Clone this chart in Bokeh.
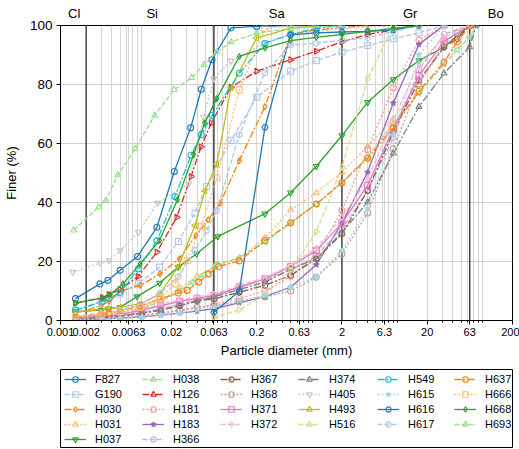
import math
from bokeh.plotting import figure
from bokeh.models import Range1d, FixedTicker, Span, Legend, LegendItem, LogAxis
from bokeh.layouts import column
from bokeh.embed import file_html
from bokeh.resources import INLINE

# ---------------- data (particle diameter mm, percent finer) ----------------
F827_d = [0.0015, 0.0029, 0.0036, 0.005, 0.008, 0.0135, 0.0216, 0.0336, 0.0448, 0.0597, 0.1, 0.2, 0.5, 2]
F827_p = [7.4, 12.4, 13.6, 17, 21.7, 31.6, 50.5, 65.3, 78.4, 88.4, 99.2, 99.7, 100, 100]
G190_d = [0.0015, 0.003, 0.0037, 0.005, 0.0082, 0.0145, 0.0241, 0.0378, 0.0517, 0.1, 0.2, 0.5, 1, 2, 4, 8, 16, 31.5]
G190_p = [3.5, 6.5, 7.5, 9, 12.5, 18.1, 26.8, 36.4, 45.4, 61, 75.7, 84.5, 88.1, 91, 93.2, 95.5, 97.5, 100]
H030_d = [0.0015, 0.003, 0.0037, 0.0053, 0.0086, 0.0147, 0.0248, 0.0388, 0.054, 0.0747, 0.125, 0.25, 0.5, 1, 2, 4]
H030_p = [2.5, 5, 6.5, 10.2, 11.9, 15.8, 20.9, 28.8, 34.1, 39.8, 54.2, 72.5, 97, 98.5, 99.3, 100]
H031_d = [0.0015, 0.003, 0.005, 0.0085, 0.015, 0.025, 0.04, 0.063, 0.125, 0.25, 0.5, 1, 2, 4, 8, 16, 31.5, 63]
H031_p = [1, 1.5, 2.5, 4, 7, 11, 15, 18, 21.2, 28, 37.6, 43.2, 50.3, 59, 68.4, 80, 93, 100]
H037_d = [0.0015, 0.003, 0.0037, 0.005, 0.0079, 0.0145, 0.0241, 0.0395, 0.07, 0.25, 0.5, 1, 2, 4, 8, 16, 31.5, 63]
H037_p = [3, 3.5, 4, 4.5, 8.1, 12.7, 18.1, 22.6, 28.5, 36.2, 43.3, 52.3, 62.7, 74, 81.7, 88.1, 92.7, 100]
H038_d = [0.0015, 0.003, 0.005, 0.008, 0.015, 0.025, 0.035, 0.048, 0.068, 0.125, 0.25, 0.5, 1, 2, 4, 8, 16, 31.5, 45, 63, 75]
H038_p = [0.5, 1, 2, 3.5, 6.5, 10, 13, 15.5, 19, 21.2, 26.6, 33.1, 39.5, 46.7, 55.4, 66.7, 77, 87, 91.8, 96, 100]
H126_d = [0.0015, 0.0031, 0.0037, 0.005, 0.0081, 0.0135, 0.0231, 0.0339, 0.0444, 0.0586, 0.1, 0.2, 0.5, 1, 2, 4, 8, 16]
H126_p = [5.9, 7.8, 8.8, 10.5, 14.9, 23.2, 35, 48.8, 58.8, 66.9, 79.1, 84.5, 88.4, 91.3, 94.5, 97, 98.5, 100]
H181_d = [0.0015, 0.003, 0.005, 0.009, 0.015, 0.025, 0.04, 0.063, 0.125, 0.25, 0.5, 1, 2, 4, 8, 16, 31.5]
H181_p = [0.5, 1, 1.5, 2, 2.5, 3.2, 4.3, 5.5, 7.5, 10, 15, 22, 37.3, 58, 78.9, 95, 100]
H183_d = [0.0015, 0.003, 0.005, 0.009, 0.015, 0.025, 0.04, 0.063, 0.125, 0.25, 0.5, 1, 2, 4, 8, 16, 31.5]
H183_p = [0.3, 0.5, 0.8, 1.2, 1.8, 2.5, 3.2, 4, 6, 8.1, 11.3, 18.9, 33, 50.3, 73.7, 93.6, 100]
H366_d = [0.0015, 0.003, 0.005, 0.009, 0.015, 0.025, 0.04, 0.063, 0.125, 0.25, 0.5, 1, 2, 4, 8, 16, 31.5, 63]
H366_p = [0.8, 1.2, 1.8, 2.8, 4, 5.5, 7, 8.2, 11, 14, 17, 22, 31, 44, 62, 85, 97, 100]
H367_d = [0.0015, 0.003, 0.005, 0.009, 0.015, 0.025, 0.04, 0.063, 0.125, 0.25, 0.5, 1, 2, 4, 8, 16, 31.5, 45, 63]
H367_p = [0.5, 1, 1.5, 2.5, 3.5, 5, 6.8, 7.3, 9.6, 11.9, 15.3, 20.9, 29.4, 44, 64, 81.4, 92.7, 95.5, 100]
H368_d = [0.0015, 0.003, 0.005, 0.009, 0.015, 0.025, 0.04, 0.063, 0.125, 0.25, 0.5, 1, 2, 4, 8, 16, 31.5, 45, 63]
H368_p = [0.3, 0.6, 1, 1.5, 2.5, 3.5, 4.5, 5, 6.5, 8, 10, 14.7, 22.6, 36.4, 58.2, 80.2, 94, 97.5, 100]
H371_d = [0.0015, 0.003, 0.005, 0.009, 0.015, 0.025, 0.04, 0.063, 0.125, 0.25, 0.5, 1, 2, 4, 8, 16, 31.5, 63]
H371_p = [1, 1.5, 2, 3.5, 5, 6.5, 7.5, 8.5, 11.3, 14.1, 18.3, 23.7, 33, 45.8, 65, 83, 94.7, 100]
H372_d = [0.0015, 0.003, 0.005, 0.009, 0.015, 0.025, 0.04, 0.063, 0.125, 0.25, 0.5, 1, 2, 4, 8, 16, 31.5, 63]
H372_p = [1.2, 1.8, 2.5, 4, 5.5, 7, 8, 9, 12, 14.5, 18.8, 24.5, 35, 48, 68, 87, 96, 100]
H374_d = [0.0015, 0.003, 0.005, 0.009, 0.015, 0.025, 0.04, 0.063, 0.125, 0.25, 0.5, 1, 2, 4, 8, 16, 31.5, 63, 75]
H374_p = [0.5, 1, 1.5, 2.5, 3.5, 5, 6.5, 8, 10.5, 13, 17.5, 20.9, 29.9, 40.1, 56.7, 72.5, 83.8, 92.7, 100]
H405_d = [0.0014, 0.0029, 0.0037, 0.005, 0.0082, 0.0137, 0.0317, 0.0477, 0.0625, 0.1, 0.25, 0.5, 2, 8]
H405_p = [16.4, 19.5, 20.3, 23.7, 29.9, 39.8, 46.3, 68.9, 81.9, 88, 94, 97, 99, 100]
H493_d = [0.0015, 0.0035, 0.005, 0.0086, 0.0147, 0.0241, 0.0378, 0.0494, 0.068, 0.1, 0.2, 0.5, 1]
H493_p = [2.8, 4, 4.5, 5.6, 9, 18.3, 32.2, 44, 53.1, 78.9, 95.8, 99, 100]
H516_d = [0.063, 0.125, 0.25, 0.5, 1, 2, 4, 8]
H516_p = [1.1, 3.6, 8.8, 17, 30, 52, 81.9, 100]
H549_d = [0.0015, 0.0031, 0.0037, 0.005, 0.0082, 0.0135, 0.022, 0.0339, 0.0448, 0.06, 0.125, 0.25, 0.5, 1, 2]
H549_p = [3.4, 6.5, 7.5, 9.5, 17.5, 27, 42, 56, 63, 69.5, 83.8, 94, 97, 99, 100]
H615_d = [0.0015, 0.003, 0.005, 0.009, 0.015, 0.025, 0.04, 0.063, 0.125, 0.25, 0.5, 1, 2, 4, 8, 16, 31.5]
H615_p = [0.3, 0.5, 0.8, 1.2, 1.8, 2.5, 3.5, 4.5, 6.8, 8.5, 11.3, 14.9, 23.7, 37.9, 63, 90, 100]
H616_d = [0.063, 0.125, 0.25, 0.5, 1, 2, 4, 8, 16]
H616_p = [2.8, 9.9, 65.5, 96.8, 97.5, 97.8, 98, 98.5, 100]
H617_d = [0.0015, 0.003, 0.005, 0.0086, 0.0147, 0.0241, 0.0378, 0.0517, 0.068, 0.125, 0.25, 0.5, 1, 2, 4, 8, 16]
H617_p = [1.5, 2.5, 3.5, 5.5, 9.3, 14.9, 23.7, 30.5, 37.3, 63, 84, 93.3, 94, 95, 95.8, 98, 100]
H637_d = [0.0015, 0.003, 0.0037, 0.005, 0.0086, 0.0147, 0.024, 0.0306, 0.0417, 0.054, 0.0715, 0.125, 0.25, 0.5, 1, 2, 4, 8, 16, 31.5, 45, 63]
H637_p = [1.1, 2, 2.5, 3, 5, 7.3, 9.3, 10.2, 13, 15.8, 18.3, 20.2, 27.1, 33.1, 39.5, 46.7, 55, 65.3, 77.7, 87.6, 94.4, 100]
H666_d = [0.0015, 0.003, 0.005, 0.0086, 0.0147, 0.022, 0.0306, 0.045, 0.068, 0.125, 0.25, 0.5]
H666_p = [1.5, 2, 3, 4.5, 7.5, 12.4, 20.3, 32, 48.4, 78.2, 98.9, 100]
H668_d = [0.0015, 0.0031, 0.0038, 0.0054, 0.0086, 0.0145, 0.0235, 0.0364, 0.049, 0.068, 0.125, 0.25, 0.5, 1, 2, 4, 8, 16]
H668_p = [5.9, 7.6, 8.8, 12.4, 19.2, 27.1, 40.9, 56.3, 66.9, 75.2, 89.5, 92.4, 94.9, 96, 97, 98, 99, 100]
H693_d = [0.00143, 0.0028, 0.0034, 0.0047, 0.0075, 0.0127, 0.0215, 0.0345, 0.048, 0.068, 0.1, 0.2, 0.5, 2]
H693_p = [30.6, 38.4, 40.7, 49.3, 58.2, 69.5, 78.2, 82.3, 86.7, 91, 94.4, 97.4, 99, 100]

names = ["F827", "G190", "H030", "H031", "H037", "H038", "H126", "H181", "H183", "H366",
         "H367", "H368", "H371", "H372", "H374", "H405", "H493", "H516", "H549", "H615",
         "H616", "H617", "H637", "H666", "H668", "H693"]
series_d = [F827_d, G190_d, H030_d, H031_d, H037_d, H038_d, H126_d, H181_d, H183_d, H366_d,
            H367_d, H368_d, H371_d, H372_d, H374_d, H405_d, H493_d, H516_d, H549_d, H615_d,
            H616_d, H617_d, H637_d, H666_d, H668_d, H693_d]
series_p = [F827_p, G190_p, H030_p, H031_p, H037_p, H038_p, H126_p, H181_p, H183_p, H366_p,
            H367_p, H368_p, H371_p, H372_p, H374_p, H405_p, H493_p, H516_p, H549_p, H615_p,
            H616_p, H617_p, H637_p, H666_p, H668_p, H693_p]

x_ticks = [0.001, 0.002, 0.0063, 0.02, 0.063, 0.2, 0.63, 2, 6.3, 20, 63, 200]
x_tick_labels = ["0.001", "0.002", "0.0063", "0.02", "0.063", "0.2", "0.63", "2", "6.3", "20", "63", "200"]
y_ticks = [0, 20, 40, 60, 80, 100]
boundaries = [0.002, 0.063, 2, 63]
class_names = ["Cl", "Si", "Sa", "Gr", "Bo"]
class_pos = [0.00145, 0.0119, 0.343, 12.6, 127]

# ---------------- styles ----------------
tab20 = ["#1f77b4", "#aec7e8", "#ff7f0e", "#ffbb78", "#2ca02c", "#98df8a", "#d62728", "#ff9896",
         "#9467bd", "#c5b0d5", "#8c564b", "#c49c94", "#e377c2", "#f7b6d2", "#7f7f7f", "#c7c7c7",
         "#bcbd22", "#dbdb8d", "#17becf", "#9edae5"]
dashes = ["solid", "5 2", "7 2 2 2", "2 2"]
markers = [("circle", 0), ("square", 0), ("diamond", 0), ("triangle", 0), ("inverted_triangle", 0),
           ("triangle", math.pi / 2), ("triangle", -math.pi / 2), ("circle", 0), ("star", 0),
           ("hex", 0), ("hex", math.pi / 2)]
FONT = "Liberation Sans"

minor = []
for e in range(-3, 3):
    for m in range(2, 10):
        v = m * 10 ** e
        if 0.001 < v < 200:
            minor.append(v)

p = figure(width=519, height=360, x_axis_type="log",
           x_range=Range1d(0.001, 200), y_range=Range1d(0, 100),
           toolbar_location=None, output_backend="svg",
           min_border_left=58, min_border_right=7, min_border_top=25, min_border_bottom=40)
p.outline_line_color = "black"
p.outline_line_alpha = 1
p.background_fill_color = "white"

xt = FixedTicker(ticks=x_ticks, minor_ticks=minor)
p.xaxis.ticker = xt
p.xgrid.ticker = xt
p.xaxis.major_label_overrides = {t: l for t, l in zip(x_ticks, x_tick_labels)}
p.xaxis.axis_label = "Particle diameter (mm)"
p.yaxis.axis_label = "Finer (%)"
p.yaxis.ticker = FixedTicker(ticks=y_ticks)
for ax in (p.xaxis, p.yaxis):
    ax.axis_label_text_font = FONT
    ax.axis_label_text_font_style = "normal"
    ax.axis_label_text_font_size = "13px"
    ax.axis_label_text_color = "black"
    ax.major_label_text_font = FONT
    ax.major_label_text_color = "black"
    ax.axis_line_color = "black"
    ax.major_tick_line_color = "black"
    ax.minor_tick_line_color = "black"
    ax.major_tick_in = 0
    ax.major_tick_out = 4
    ax.minor_tick_in = 0
    ax.minor_tick_out = 2
p.xaxis.major_label_text_font_size = "11px"
p.yaxis.major_label_text_font_size = "13.5px"
p.xaxis.major_label_standoff = 3
p.yaxis.major_label_standoff = 4
p.xaxis.axis_label_standoff = 4
p.yaxis.axis_label_standoff = 8
p.yaxis.minor_tick_line_color = None

# soil class names above the frame
top_axis = LogAxis(ticker=FixedTicker(ticks=class_pos, minor_ticks=[]),
                   major_label_overrides={v: n for v, n in zip(class_pos, class_names)},
                   axis_line_color=None, major_tick_line_color=None, minor_tick_line_color=None,
                   major_tick_in=0, major_tick_out=0, major_label_standoff=5,
                   major_label_text_font=FONT, major_label_text_font_size="13px",
                   major_label_text_color="black")
p.add_layout(top_axis, "above")

p.xgrid.grid_line_color = "#d6d6d6"
p.xgrid.minor_grid_line_color = "#d6d6d6"
p.ygrid.grid_line_color = "#cfcfcf"

for b in boundaries:
    p.add_layout(Span(location=b, dimension="height", line_color="#3a3a3a", line_width=1.4, level="underlay"))

for i, nm in enumerate(names):
    c = tab20[i % 20]
    dash = dashes[i % 4]
    mk, ang = markers[i % 11]
    p.line(series_d[i], series_p[i], line_color=c, line_width=1.3, line_dash=dash)
    p.scatter(series_d[i], series_p[i], marker=mk, angle=ang, size=6, line_color=c, line_width=1.1,
              fill_color=c if mk == "star" else None)

# ---------------- legend panel ----------------
LEG_H = 89
LEG_TOP = 9
LEG_BOTTOM = 2
lf = figure(width=519, height=LEG_H, x_range=Range1d(0, 1), y_range=Range1d(0, 1),
            toolbar_location=None, output_backend="svg",
            x_axis_location=None, y_axis_location=None,
            min_border_left=58, min_border_right=6, min_border_top=LEG_TOP, min_border_bottom=LEG_BOTTOM)
lf.grid.visible = False
lf.outline_line_color = "black"
lf.outline_line_alpha = 1

nan = float("nan")
items = []
for i, nm in enumerate(names):
    c = tab20[i % 20]
    dash = dashes[i % 4]
    mk, ang = markers[i % 11]
    lr = lf.line([nan], [nan], line_color=c, line_width=1.3, line_dash=dash)
    sr = lf.scatter([nan], [nan], marker=mk, angle=ang, size=6, line_color=c, line_width=1.1,
                    fill_color=c if mk == "star" else None)
    items.append(LegendItem(label=nm, renderers=[lr, sr]))

groups = [(0, 5), (5, 10), (10, 14), (14, 18), (18, 22), (22, 26)]
col_x = [4, 82, 160, 238, 317, 394]
frame_h = LEG_H - LEG_TOP - LEG_BOTTOM
for (a, b), cx in zip(groups, col_x):
    n = b - a
    h = n * 14 + (n - 1) * 1
    lg = Legend(items=items[a:b], location=(cx, frame_h - 3 - h), orientation="vertical",
                glyph_width=22, glyph_height=14, label_height=14, label_standoff=9,
                spacing=1, padding=0, margin=0, border_line_color=None,
                background_fill_alpha=0, label_text_font=FONT, label_text_font_size="11px",
                label_text_color="black")
    lf.add_layout(lg, "center")

layout = column(p, lf)
open("out.html", "w").write(file_html(layout, INLINE))
